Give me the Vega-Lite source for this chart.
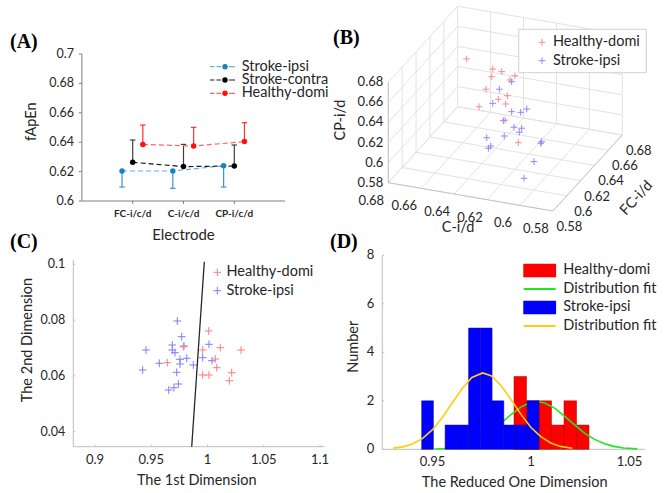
{
"$schema":"https://vega.github.io/schema/vega-lite/v6.json",
"width":666,"height":493,"autosize":{"type":"none"},"padding":0,"background":"white",
"config":{"view":{"stroke":null},"axis":{"disable":true},"legend":{"disable":true},"font":"Lato","text":{"font":"Lato","color":"#262626"}},
"resolve":{"scale":{"x":"independent","y":"independent","color":"independent","fill":"independent","stroke":"independent","shape":"independent","yOffset":"independent"}},
"datasets":{
"A":[
{"electrode":"FC-i/c/d","group":"Stroke-ipsi","mean":0.6204,"end":0.6095},
{"electrode":"C-i/c/d","group":"Stroke-ipsi","mean":0.6204,"end":0.6086},
{"electrode":"CP-i/c/d","group":"Stroke-ipsi","mean":0.6240,"end":0.6095},
{"electrode":"FC-i/c/d","group":"Stroke-contra","mean":0.6263,"end":0.6415},
{"electrode":"C-i/c/d","group":"Stroke-contra","mean":0.6234,"end":0.6385},
{"electrode":"CP-i/c/d","group":"Stroke-contra","mean":0.6238,"end":0.6381},
{"electrode":"FC-i/c/d","group":"Healthy-domi","mean":0.6385,"end":0.6517},
{"electrode":"C-i/c/d","group":"Healthy-domi","mean":0.6374,"end":0.6501},
{"electrode":"CP-i/c/d","group":"Healthy-domi","mean":0.6404,"end":0.6533}],
"B":[
{"group":"Healthy-domi","C":0.6706,"FC":0.6706,"CP":0.6373},
{"group":"Healthy-domi","C":0.6432,"FC":0.6432,"CP":0.6557},
{"group":"Healthy-domi","C":0.6338,"FC":0.6338,"CP":0.6628},
{"group":"Healthy-domi","C":0.6443,"FC":0.6443,"CP":0.6469},
{"group":"Healthy-domi","C":0.6198,"FC":0.6198,"CP":0.6733},
{"group":"Healthy-domi","C":0.6251,"FC":0.6251,"CP":0.6636},
{"group":"Healthy-domi","C":0.6503,"FC":0.6503,"CP":0.6282},
{"group":"Healthy-domi","C":0.6279,"FC":0.6279,"CP":0.6450},
{"group":"Healthy-domi","C":0.6374,"FC":0.6374,"CP":0.6316},
{"group":"Healthy-domi","C":0.6296,"FC":0.6296,"CP":0.6350},
{"group":"Healthy-domi","C":0.6576,"FC":0.6576,"CP":0.6032},
{"group":"Healthy-domi","C":0.6303,"FC":0.6303,"CP":0.6183},
{"group":"Healthy-domi","C":0.6163,"FC":0.6163,"CP":0.6103},
{"group":"Stroke-ipsi","C":0.6233,"FC":0.6233,"CP":0.6637},
{"group":"Stroke-ipsi","C":0.6363,"FC":0.6363,"CP":0.6427},
{"group":"Stroke-ipsi","C":0.6432,"FC":0.6432,"CP":0.6215},
{"group":"Stroke-ipsi","C":0.6233,"FC":0.6233,"CP":0.6339},
{"group":"Stroke-ipsi","C":0.6138,"FC":0.6138,"CP":0.6431},
{"group":"Stroke-ipsi","C":0.6075,"FC":0.6075,"CP":0.6529},
{"group":"Stroke-ipsi","C":0.6321,"FC":0.6321,"CP":0.6158},
{"group":"Stroke-ipsi","C":0.6209,"FC":0.6209,"CP":0.6209},
{"group":"Stroke-ipsi","C":0.6128,"FC":0.6128,"CP":0.6283},
{"group":"Stroke-ipsi","C":0.6153,"FC":0.6153,"CP":0.6217},
{"group":"Stroke-ipsi","C":0.6495,"FC":0.6495,"CP":0.5808},
{"group":"Stroke-ipsi","C":0.6311,"FC":0.6311,"CP":0.6016},
{"group":"Stroke-ipsi","C":0.6425,"FC":0.6353,"CP":0.5830},
{"group":"Stroke-ipsi","C":0.6414,"FC":0.6360,"CP":0.5850},
{"group":"Stroke-ipsi","C":0.5918,"FC":0.5918,"CP":0.6367},
{"group":"Stroke-ipsi","C":0.5928,"FC":0.5928,"CP":0.6341},
{"group":"Stroke-ipsi","C":0.5999,"FC":0.5999,"CP":0.6085},
{"group":"Stroke-ipsi","C":0.6104,"FC":0.6104,"CP":0.5810}],
"Bgrid":[
{"C1":0.58,"F1":0.58,"P1":0.58,"C2":0.58,"F2":0.68,"P2":0.58},
{"C1":0.60,"F1":0.58,"P1":0.58,"C2":0.60,"F2":0.68,"P2":0.58},
{"C1":0.62,"F1":0.58,"P1":0.58,"C2":0.62,"F2":0.68,"P2":0.58},
{"C1":0.64,"F1":0.58,"P1":0.58,"C2":0.64,"F2":0.68,"P2":0.58},
{"C1":0.66,"F1":0.58,"P1":0.58,"C2":0.66,"F2":0.68,"P2":0.58},
{"C1":0.68,"F1":0.58,"P1":0.58,"C2":0.68,"F2":0.68,"P2":0.58},
{"C1":0.58,"F1":0.58,"P1":0.58,"C2":0.68,"F2":0.58,"P2":0.58},
{"C1":0.58,"F1":0.60,"P1":0.58,"C2":0.68,"F2":0.60,"P2":0.58},
{"C1":0.58,"F1":0.62,"P1":0.58,"C2":0.68,"F2":0.62,"P2":0.58},
{"C1":0.58,"F1":0.64,"P1":0.58,"C2":0.68,"F2":0.64,"P2":0.58},
{"C1":0.58,"F1":0.66,"P1":0.58,"C2":0.68,"F2":0.66,"P2":0.58},
{"C1":0.58,"F1":0.68,"P1":0.58,"C2":0.68,"F2":0.68,"P2":0.58},
{"C1":0.68,"F1":0.58,"P1":0.58,"C2":0.68,"F2":0.58,"P2":0.68},
{"C1":0.68,"F1":0.60,"P1":0.58,"C2":0.68,"F2":0.60,"P2":0.68},
{"C1":0.68,"F1":0.62,"P1":0.58,"C2":0.68,"F2":0.62,"P2":0.68},
{"C1":0.68,"F1":0.64,"P1":0.58,"C2":0.68,"F2":0.64,"P2":0.68},
{"C1":0.68,"F1":0.66,"P1":0.58,"C2":0.68,"F2":0.66,"P2":0.68},
{"C1":0.68,"F1":0.68,"P1":0.58,"C2":0.68,"F2":0.68,"P2":0.68},
{"C1":0.68,"F1":0.58,"P1":0.58,"C2":0.68,"F2":0.68,"P2":0.58},
{"C1":0.68,"F1":0.58,"P1":0.60,"C2":0.68,"F2":0.68,"P2":0.60},
{"C1":0.68,"F1":0.58,"P1":0.62,"C2":0.68,"F2":0.68,"P2":0.62},
{"C1":0.68,"F1":0.58,"P1":0.64,"C2":0.68,"F2":0.68,"P2":0.64},
{"C1":0.68,"F1":0.58,"P1":0.66,"C2":0.68,"F2":0.68,"P2":0.66},
{"C1":0.68,"F1":0.58,"P1":0.68,"C2":0.68,"F2":0.68,"P2":0.68},
{"C1":0.58,"F1":0.68,"P1":0.58,"C2":0.58,"F2":0.68,"P2":0.68},
{"C1":0.60,"F1":0.68,"P1":0.58,"C2":0.60,"F2":0.68,"P2":0.68},
{"C1":0.62,"F1":0.68,"P1":0.58,"C2":0.62,"F2":0.68,"P2":0.68},
{"C1":0.64,"F1":0.68,"P1":0.58,"C2":0.64,"F2":0.68,"P2":0.68},
{"C1":0.66,"F1":0.68,"P1":0.58,"C2":0.66,"F2":0.68,"P2":0.68},
{"C1":0.58,"F1":0.68,"P1":0.58,"C2":0.68,"F2":0.68,"P2":0.58},
{"C1":0.58,"F1":0.68,"P1":0.60,"C2":0.68,"F2":0.68,"P2":0.60},
{"C1":0.58,"F1":0.68,"P1":0.62,"C2":0.68,"F2":0.68,"P2":0.62},
{"C1":0.58,"F1":0.68,"P1":0.64,"C2":0.68,"F2":0.68,"P2":0.64},
{"C1":0.58,"F1":0.68,"P1":0.66,"C2":0.68,"F2":0.68,"P2":0.66},
{"C1":0.58,"F1":0.68,"P1":0.68,"C2":0.68,"F2":0.68,"P2":0.68}],
"Bedge":[
{"C1":0.58,"F1":0.58,"P1":0.58,"C2":0.68,"F2":0.58,"P2":0.58},
{"C1":0.58,"F1":0.58,"P1":0.58,"C2":0.58,"F2":0.68,"P2":0.58},
{"C1":0.68,"F1":0.58,"P1":0.58,"C2":0.68,"F2":0.58,"P2":0.68}],
"Bticks":[{"t":0.58},{"t":0.60},{"t":0.62},{"t":0.64},{"t":0.66},{"t":0.68}],
"C":[
{"group":"Stroke-ipsi","d1":0.97316,"d2":0.07968},{"group":"Stroke-ipsi","d1":0.97707,"d2":0.07405},
{"group":"Stroke-ipsi","d1":0.94533,"d2":0.06928},{"group":"Stroke-ipsi","d1":0.96871,"d2":0.07108},
{"group":"Stroke-ipsi","d1":0.96871,"d2":0.06928},{"group":"Stroke-ipsi","d1":0.97111,"d2":0.06832},
{"group":"Stroke-ipsi","d1":0.97556,"d2":0.06595},{"group":"Stroke-ipsi","d1":0.97556,"d2":0.06427},
{"group":"Stroke-ipsi","d1":0.98151,"d2":0.06631},{"group":"Stroke-ipsi","d1":0.95716,"d2":0.06452},
{"group":"Stroke-ipsi","d1":0.98738,"d2":0.06391},{"group":"Stroke-ipsi","d1":0.9424,"d2":0.06211},
{"group":"Stroke-ipsi","d1":0.97262,"d2":0.06129},{"group":"Stroke-ipsi","d1":0.97404,"d2":0.0571},
{"group":"Stroke-ipsi","d1":0.97022,"d2":0.05577},{"group":"Stroke-ipsi","d1":0.96551,"d2":0.05495},
{"group":"Stroke-ipsi","d1":0.99573,"d2":0.06652},{"group":"Stroke-ipsi","d1":1.00133,"d2":0.07133},
{"group":"Stroke-ipsi","d1":1.004,"d2":0.06545},{"group":"Stroke-ipsi","d1":0.97911,"d2":0.07072},
{"group":"Healthy-domi","d1":0.96427,"d2":0.06473},{"group":"Healthy-domi","d1":0.97849,"d2":0.07047},
{"group":"Healthy-domi","d1":0.99573,"d2":0.06928},{"group":"Healthy-domi","d1":1.00107,"d2":0.07609},
{"group":"Healthy-domi","d1":1.01138,"d2":0.07011},{"group":"Healthy-domi","d1":1.02978,"d2":0.06928},
{"group":"Healthy-domi","d1":1.00693,"d2":0.06606},{"group":"Healthy-domi","d1":1.00818,"d2":0.06294},
{"group":"Healthy-domi","d1":0.99573,"d2":0.06032},{"group":"Healthy-domi","d1":1.00133,"d2":0.06032},
{"group":"Healthy-domi","d1":1.02151,"d2":0.06115},{"group":"Healthy-domi","d1":1.01938,"d2":0.05828}],
"Cline":[{"d1":0.98596,"d2":0.03462},{"d1":0.99716,"d2":0.10093}],
"Dbars":[
{"group":"Healthy-domi","lo":0.99137,"hi":0.99772,"n":3},{"group":"Healthy-domi","lo":0.99772,"hi":1.00406,"n":2},
{"group":"Healthy-domi","lo":1.00406,"hi":1.01041,"n":2},{"group":"Healthy-domi","lo":1.01041,"hi":1.01675,"n":1},
{"group":"Healthy-domi","lo":1.01675,"hi":1.0231,"n":2},{"group":"Healthy-domi","lo":1.0231,"hi":1.02944,"n":1},
{"group":"Stroke-ipsi","lo":0.9445,"hi":0.95046,"n":2},{"group":"Stroke-ipsi","lo":0.95641,"hi":0.96237,"n":1},
{"group":"Stroke-ipsi","lo":0.96237,"hi":0.96833,"n":1},{"group":"Stroke-ipsi","lo":0.96833,"hi":0.97428,"n":5},
{"group":"Stroke-ipsi","lo":0.97428,"hi":0.98024,"n":5},{"group":"Stroke-ipsi","lo":0.98024,"hi":0.9862,"n":2},
{"group":"Stroke-ipsi","lo":0.9862,"hi":0.99215,"n":1},{"group":"Stroke-ipsi","lo":0.99215,"hi":0.99811,"n":1},
{"group":"Stroke-ipsi","lo":0.99811,"hi":1.00406,"n":2}],
"Dfit":[
{"group":"Stroke-ipsi","x":0.930,"y":0.05},{"group":"Stroke-ipsi","x":0.935,"y":0.10},{"group":"Stroke-ipsi","x":0.940,"y":0.23},
{"group":"Stroke-ipsi","x":0.945,"y":0.45},{"group":"Stroke-ipsi","x":0.950,"y":0.81},{"group":"Stroke-ipsi","x":0.955,"y":1.31},
{"group":"Stroke-ipsi","x":0.960,"y":1.91},{"group":"Stroke-ipsi","x":0.965,"y":2.50},{"group":"Stroke-ipsi","x":0.970,"y":2.96},
{"group":"Stroke-ipsi","x":0.9755,"y":3.15},{"group":"Stroke-ipsi","x":0.980,"y":3.02},{"group":"Stroke-ipsi","x":0.985,"y":2.61},
{"group":"Stroke-ipsi","x":0.990,"y":2.03},{"group":"Stroke-ipsi","x":0.995,"y":1.43},{"group":"Stroke-ipsi","x":1.000,"y":0.90},
{"group":"Stroke-ipsi","x":1.005,"y":0.52},{"group":"Stroke-ipsi","x":1.010,"y":0.26},{"group":"Stroke-ipsi","x":1.015,"y":0.12},
{"group":"Stroke-ipsi","x":1.021,"y":0.04},
{"group":"Healthy-domi","x":0.951,"y":0.014},{"group":"Healthy-domi","x":0.956,"y":0.034},{"group":"Healthy-domi","x":0.960,"y":0.066},
{"group":"Healthy-domi","x":0.965,"y":0.14},{"group":"Healthy-domi","x":0.970,"y":0.27},{"group":"Healthy-domi","x":0.975,"y":0.47},
{"group":"Healthy-domi","x":0.980,"y":0.75},{"group":"Healthy-domi","x":0.985,"y":1.09},{"group":"Healthy-domi","x":0.990,"y":1.44},
{"group":"Healthy-domi","x":0.995,"y":1.75},{"group":"Healthy-domi","x":1.000,"y":1.94},{"group":"Healthy-domi","x":1.003,"y":1.97},
{"group":"Healthy-domi","x":1.007,"y":1.91},{"group":"Healthy-domi","x":1.012,"y":1.70},{"group":"Healthy-domi","x":1.017,"y":1.37},
{"group":"Healthy-domi","x":1.022,"y":1.02},{"group":"Healthy-domi","x":1.027,"y":0.68},{"group":"Healthy-domi","x":1.032,"y":0.42},
{"group":"Healthy-domi","x":1.037,"y":0.24},{"group":"Healthy-domi","x":1.042,"y":0.12},{"group":"Healthy-domi","x":1.047,"y":0.056},
{"group":"Healthy-domi","x":1.054,"y":0.017}]
},
"layer":[
{"layer":[
 {"data":{"values":[{}]},"mark":{"type":"rule","color":"#7f7f7f"},"encoding":{"x":{"datum":0,"scale":{"domain":[-1.6122,11.498],"nice":false,"zero":false}},"y":{"datum":0.6,"scale":{"domain":[0.401361,0.736735],"nice":false,"zero":false}},"y2":{"datum":0.7}}},
 {"data":{"values":[{}]},"mark":{"type":"rule","color":"#7f7f7f"},"encoding":{"x":{"datum":0,"scale":{"domain":[-1.6122,11.498],"nice":false,"zero":false}},"x2":{"datum":4},"y":{"datum":0.6,"scale":{"domain":[0.401361,0.736735],"nice":false,"zero":false}}}},
 {"data":{"values":[{"v":0.6},{"v":0.62},{"v":0.64},{"v":0.66},{"v":0.68},{"v":0.7}]},"layer":[
  {"mark":{"type":"rule","color":"#7f7f7f"},"encoding":{"x":{"datum":0,"scale":{"domain":[-1.6122,11.498],"nice":false,"zero":false}},"x2":{"datum":-0.06},"y":{"field":"v","type":"quantitative","scale":{"domain":[0.401361,0.736735],"nice":false,"zero":false}}}},
  {"mark":{"type":"text","align":"right","baseline":"middle","dx":-8,"fontSize":12.5,"color":"#262626"},"encoding":{"x":{"datum":0,"scale":{"domain":[-1.6122,11.498],"nice":false,"zero":false}},"y":{"field":"v","type":"quantitative","scale":{"domain":[0.401361,0.736735],"nice":false,"zero":false}},"text":{"field":"v","type":"quantitative","format":"~g"}}}
 ]},
 {"data":{"values":[{"e":"FC-i/c/d"},{"e":"C-i/c/d"},{"e":"CP-i/c/d"}]},"transform":[{"calculate":"indexof(['FC-i/c/d','C-i/c/d','CP-i/c/d'], datum.e) + 1","as":"i"}],"layer":[
  {"mark":{"type":"rule","color":"#7f7f7f"},"encoding":{"x":{"field":"i","type":"quantitative","scale":{"domain":[-1.6122,11.498],"nice":false,"zero":false}},"y":{"datum":0.6,"scale":{"domain":[0.401361,0.736735],"nice":false,"zero":false}},"y2":{"datum":0.598}}},
  {"mark":{"type":"text","baseline":"middle","dy":12.5,"fontSize":10,"fontWeight":"bold","color":"#262626"},"encoding":{"x":{"field":"i","type":"quantitative","scale":{"domain":[-1.6122,11.498],"nice":false,"zero":false}},"y":{"datum":0.6,"scale":{"domain":[0.401361,0.736735],"nice":false,"zero":false}},"text":{"field":"e","type":"nominal"}}}
 ]},
 {"data":{"name":"A"},"transform":[{"calculate":"indexof(['FC-i/c/d','C-i/c/d','CP-i/c/d'], datum.electrode) + 1 + (datum.group === 'Stroke-ipsi' ? -0.21 : (datum.group === 'Healthy-domi' ? 0.2 : 0))","as":"xp"}],"layer":[
  {"mark":{"type":"rule","strokeWidth":1.2},"encoding":{"x":{"field":"xp","type":"quantitative","scale":{"domain":[-1.6122,11.498],"nice":false,"zero":false}},"y":{"field":"mean","type":"quantitative","scale":{"domain":[0.401361,0.736735],"nice":false,"zero":false}},"y2":{"field":"end"},"color":{"field":"group","type":"nominal","scale":{"domain":["Stroke-ipsi","Stroke-contra","Healthy-domi"],"range":["#3d8fdc","#404040","#ff3030"]}}}},
  {"mark":{"type":"point","shape":"M-1,0H1","size":30,"filled":false,"strokeWidth":1.2,"opacity":1},"encoding":{"x":{"field":"xp","type":"quantitative","scale":{"domain":[-1.6122,11.498],"nice":false,"zero":false}},"y":{"field":"end","type":"quantitative","scale":{"domain":[0.401361,0.736735],"nice":false,"zero":false}},"color":{"field":"group","type":"nominal","scale":{"domain":["Stroke-ipsi","Stroke-contra","Healthy-domi"],"range":["#3d8fdc","#404040","#ff3030"]}}}},
  {"mark":{"type":"line","strokeDash":[5,3],"strokeWidth":1.2},"encoding":{"x":{"field":"xp","type":"quantitative","scale":{"domain":[-1.6122,11.498],"nice":false,"zero":false}},"y":{"field":"mean","type":"quantitative","scale":{"domain":[0.401361,0.736735],"nice":false,"zero":false}},"stroke":{"field":"group","type":"nominal","scale":{"domain":["Stroke-ipsi","Stroke-contra","Healthy-domi"],"range":["#66aee8","#1a1a1a","#ff6666"]}}}},
  {"mark":{"type":"point","filled":true,"size":30,"strokeWidth":0,"opacity":1},"encoding":{"x":{"field":"xp","type":"quantitative","scale":{"domain":[-1.6122,11.498],"nice":false,"zero":false}},"y":{"field":"mean","type":"quantitative","scale":{"domain":[0.401361,0.736735],"nice":false,"zero":false}},"fill":{"field":"group","type":"nominal","scale":{"domain":["Stroke-ipsi","Stroke-contra","Healthy-domi"],"range":["#1784c2","#000000","#ff1010"]}}}}
 ]},
 {"data":{"values":[{"group":"Stroke-ipsi"},{"group":"Stroke-contra"},{"group":"Healthy-domi"}]},"layer":[
  {"mark":{"type":"point","shape":"M-3,0H-2.1M-1.7,0H-0.8M-0.4,0H0.4M0.8,0H2","size":100,"filled":false,"strokeWidth":1.2,"opacity":1},"encoding":{"x":{"datum":2.8169,"scale":{"domain":[-1.6122,11.498],"nice":false,"zero":false}},"y":{"datum":0.691361,"scale":{"domain":[0.401361,0.736735],"nice":false,"zero":false}},"yOffset":{"field":"group","type":"nominal","scale":{"type":"point","domain":["Stroke-ipsi","Stroke-contra","Healthy-domi"],"range":[0,26.6],"padding":0}},"stroke":{"field":"group","type":"nominal","scale":{"domain":["Stroke-ipsi","Stroke-contra","Healthy-domi"],"range":["#66aee8","#1a1a1a","#ff6666"]}}}},
  {"mark":{"type":"point","filled":true,"size":30,"strokeWidth":0,"opacity":1},"encoding":{"x":{"datum":2.8169,"scale":{"domain":[-1.6122,11.498],"nice":false,"zero":false}},"y":{"datum":0.691361,"scale":{"domain":[0.401361,0.736735],"nice":false,"zero":false}},"yOffset":{"field":"group","type":"nominal","scale":{"type":"point","domain":["Stroke-ipsi","Stroke-contra","Healthy-domi"],"range":[0,26.6],"padding":0}},"fill":{"field":"group","type":"nominal","scale":{"domain":["Stroke-ipsi","Stroke-contra","Healthy-domi"],"range":["#1784c2","#000000","#ff1010"]}}}},
  {"mark":{"type":"text","align":"left","baseline":"middle","fontSize":14.5,"color":"#262626"},"encoding":{"x":{"datum":3.1457,"scale":{"domain":[-1.6122,11.498],"nice":false,"zero":false}},"y":{"datum":0.691361,"scale":{"domain":[0.401361,0.736735],"nice":false,"zero":false}},"yOffset":{"field":"group","type":"nominal","scale":{"type":"point","domain":["Stroke-ipsi","Stroke-contra","Healthy-domi"],"range":[0,26.6],"padding":0}},"text":{"field":"group","type":"nominal"}}}
 ]},
 {"data":{"values":[{}]},"layer":[
  {"mark":{"type":"text","font":"Liberation Serif","fontWeight":"bold","fontSize":20,"align":"left","baseline":"middle","color":"#000000"},"encoding":{"x":{"datum":-1.41535,"scale":{"domain":[-1.6122,11.498],"nice":false,"zero":false}},"y":{"datum":0.708503,"scale":{"domain":[0.401361,0.736735],"nice":false,"zero":false}},"text":{"value":"(A)"}}},
  {"mark":{"type":"text","angle":270,"align":"center","baseline":"middle","fontSize":14.5,"color":"#262626"},"encoding":{"x":{"datum":-0.9823,"scale":{"domain":[-1.6122,11.498],"nice":false,"zero":false}},"y":{"datum":0.65395,"scale":{"domain":[0.401361,0.736735],"nice":false,"zero":false}},"text":{"value":"fApEn"}}},
  {"mark":{"type":"text","align":"center","baseline":"middle","fontSize":15,"color":"#262626"},"encoding":{"x":{"datum":2,"scale":{"domain":[-1.6122,11.498],"nice":false,"zero":false}},"y":{"datum":0.576871,"scale":{"domain":[0.401361,0.736735],"nice":false,"zero":false}},"text":{"value":"Electrode"}}}
 ]}
]},
{"layer":[
 {"data":{"name":"Bgrid"},"transform":[{"calculate":"-16.46*(datum.C1-0.58)+6.94*(datum.F1-0.58)","as":"u1"},{"calculate":"2.83*(datum.C1-0.58)+7.6*(datum.F1-0.58)+10.05*(datum.P1-0.58)","as":"v1"},{"calculate":"-16.46*(datum.C2-0.58)+6.94*(datum.F2-0.58)","as":"u2"},{"calculate":"2.83*(datum.C2-0.58)+7.6*(datum.F2-0.58)+10.05*(datum.P2-0.58)","as":"v2"}],
  "mark":{"type":"rule","color":"#e2e2e2","strokeWidth":1},"encoding":{"x":{"field":"u1","type":"quantitative","scale":{"domain":[-5.529,1.131],"nice":false,"zero":false}},"y":{"field":"v1","type":"quantitative","scale":{"domain":[-2.82,2.11],"nice":false,"zero":false}},"x2":{"field":"u2"},"y2":{"field":"v2"}}},
 {"data":{"name":"Bedge"},"transform":[{"calculate":"-16.46*(datum.C1-0.58)+6.94*(datum.F1-0.58)","as":"u1"},{"calculate":"2.83*(datum.C1-0.58)+7.6*(datum.F1-0.58)+10.05*(datum.P1-0.58)","as":"v1"},{"calculate":"-16.46*(datum.C2-0.58)+6.94*(datum.F2-0.58)","as":"u2"},{"calculate":"2.83*(datum.C2-0.58)+7.6*(datum.F2-0.58)+10.05*(datum.P2-0.58)","as":"v2"}],
  "mark":{"type":"rule","color":"#c4c4c4","strokeWidth":1},"encoding":{"x":{"field":"u1","type":"quantitative","scale":{"domain":[-5.529,1.131],"nice":false,"zero":false}},"y":{"field":"v1","type":"quantitative","scale":{"domain":[-2.82,2.11],"nice":false,"zero":false}},"x2":{"field":"u2"},"y2":{"field":"v2"}}},
 {"data":{"name":"B"},"transform":[{"calculate":"-16.46*(datum.C-0.58)+6.94*(datum.FC-0.58)","as":"u"},{"calculate":"2.83*(datum.C-0.58)+7.6*(datum.FC-0.58)+10.05*(datum.CP-0.58)","as":"v"}],
  "mark":{"type":"point","shape":"M-1,0H1M0,-1V1","size":45,"filled":false,"strokeWidth":1,"opacity":1},"encoding":{"x":{"field":"u","type":"quantitative","scale":{"domain":[-5.529,1.131],"nice":false,"zero":false}},"y":{"field":"v","type":"quantitative","scale":{"domain":[-2.82,2.11],"nice":false,"zero":false}},"stroke":{"field":"group","type":"nominal","scale":{"domain":["Healthy-domi","Stroke-ipsi"],"range":["#ff8a8a","#8a8aff"]}}}},
 {"data":{"name":"Bticks"},"transform":[{"calculate":"-1.646","as":"u"},{"calculate":"0.283+10.05*(datum.t-0.58)","as":"v"}],
  "mark":{"type":"text","align":"right","baseline":"middle","dx":-5,"fontSize":13,"color":"#262626"},"encoding":{"x":{"field":"u","type":"quantitative","scale":{"domain":[-5.529,1.131],"nice":false,"zero":false}},"y":{"field":"v","type":"quantitative","scale":{"domain":[-2.82,2.11],"nice":false,"zero":false}},"text":{"field":"t","type":"quantitative","format":"~g"}}},
 {"data":{"name":"Bticks"},"transform":[{"calculate":"-16.46*(datum.t-0.58)","as":"u"},{"calculate":"2.83*(datum.t-0.58)","as":"v"}],
  "mark":{"type":"text","align":"center","baseline":"middle","dx":-17,"dy":18,"fontSize":13,"color":"#262626"},"encoding":{"x":{"field":"u","type":"quantitative","scale":{"domain":[-5.529,1.131],"nice":false,"zero":false}},"y":{"field":"v","type":"quantitative","scale":{"domain":[-2.82,2.11],"nice":false,"zero":false}},"text":{"field":"t","type":"quantitative","format":"~g"}}},
 {"data":{"name":"Bticks"},"transform":[{"calculate":"6.94*(datum.t-0.58)","as":"u"},{"calculate":"7.6*(datum.t-0.58)","as":"v"}],
  "mark":{"type":"text","align":"center","baseline":"middle","dx":16.5,"dy":16,"fontSize":13,"color":"#262626"},"encoding":{"x":{"field":"u","type":"quantitative","scale":{"domain":[-5.529,1.131],"nice":false,"zero":false}},"y":{"field":"v","type":"quantitative","scale":{"domain":[-2.82,2.11],"nice":false,"zero":false}},"text":{"field":"t","type":"quantitative","format":"~g"}}},
 {"data":{"values":[{}]},"mark":{"type":"rect","fill":"#ffffff","stroke":"#d0d0d0","strokeWidth":1},"encoding":{"x":{"datum":-0.342,"scale":{"domain":[-5.529,1.131],"nice":false,"zero":false}},"x2":{"datum":0.934},"y":{"datum":1.817,"scale":{"domain":[-2.82,2.11],"nice":false,"zero":false}},"y2":{"datum":1.383}}},
 {"data":{"values":[{"group":"Healthy-domi"},{"group":"Stroke-ipsi"}]},"layer":[
  {"mark":{"type":"point","shape":"M-1,0H1M0,-1V1","size":45,"filled":false,"strokeWidth":1,"opacity":1},"encoding":{"x":{"datum":-0.109,"scale":{"domain":[-5.529,1.131],"nice":false,"zero":false}},"y":{"datum":1.687,"scale":{"domain":[-2.82,2.11],"nice":false,"zero":false}},"yOffset":{"field":"group","type":"nominal","scale":{"type":"point","domain":["Healthy-domi","Stroke-ipsi"],"range":[0,18.4],"padding":0}},"stroke":{"field":"group","type":"nominal","scale":{"domain":["Healthy-domi","Stroke-ipsi"],"range":["#ff8a8a","#8a8aff"]}}}},
  {"mark":{"type":"text","align":"left","baseline":"middle","fontSize":14.5,"color":"#262626"},"encoding":{"x":{"datum":0.001,"scale":{"domain":[-5.529,1.131],"nice":false,"zero":false}},"y":{"datum":1.687,"scale":{"domain":[-2.82,2.11],"nice":false,"zero":false}},"yOffset":{"field":"group","type":"nominal","scale":{"type":"point","domain":["Healthy-domi","Stroke-ipsi"],"range":[0,18.4],"padding":0}},"text":{"field":"group","type":"nominal"}}}
 ]},
 {"data":{"values":[{}]},"layer":[
  {"mark":{"type":"text","font":"Liberation Serif","fontWeight":"bold","fontSize":20,"align":"left","baseline":"middle","color":"#000000"},"encoding":{"x":{"datum":-2.199,"scale":{"domain":[-5.529,1.131],"nice":false,"zero":false}},"y":{"datum":1.73,"scale":{"domain":[-2.82,2.11],"nice":false,"zero":false}},"text":{"value":"(B)"}}},
  {"mark":{"type":"text","angle":270,"align":"center","baseline":"middle","fontSize":14.5,"color":"#262626"},"encoding":{"x":{"datum":-2.116,"scale":{"domain":[-5.529,1.131],"nice":false,"zero":false}},"y":{"datum":0.91,"scale":{"domain":[-2.82,2.11],"nice":false,"zero":false}},"text":{"value":"CP-i/d"}}},
  {"mark":{"type":"text","align":"center","baseline":"middle","fontSize":14.5,"color":"#262626"},"encoding":{"x":{"datum":-0.949,"scale":{"domain":[-5.529,1.131],"nice":false,"zero":false}},"y":{"datum":-0.165,"scale":{"domain":[-2.82,2.11],"nice":false,"zero":false}},"text":{"value":"C-i/d"}}},
  {"mark":{"type":"text","angle":312,"align":"center","baseline":"middle","fontSize":14.5,"color":"#262626"},"encoding":{"x":{"datum":0.838,"scale":{"domain":[-5.529,1.131],"nice":false,"zero":false}},"y":{"datum":0.127,"scale":{"domain":[-2.82,2.11],"nice":false,"zero":false}},"text":{"value":"FC-i/d"}}}
 ]}
]},
{"layer":[
 {"data":{"values":[{}]},"mark":{"type":"rule","color":"#bdbdbd"},"encoding":{"x":{"datum":0.88071,"scale":{"domain":[0.815556,1.407556],"nice":false,"zero":false}},"y":{"datum":0.03462,"scale":{"domain":[0.018029,0.194731],"nice":false,"zero":false}},"y2":{"datum":0.1015}}},
 {"data":{"values":[{}]},"mark":{"type":"rule","color":"#bdbdbd"},"encoding":{"x":{"datum":0.88071,"scale":{"domain":[0.815556,1.407556],"nice":false,"zero":false}},"x2":{"datum":1.10382},"y":{"datum":0.03462,"scale":{"domain":[0.018029,0.194731],"nice":false,"zero":false}}}},
 {"data":{"values":[{"v":0.9},{"v":0.95},{"v":1},{"v":1.05},{"v":1.1}]},"layer":[
  {"mark":{"type":"rule","color":"#bdbdbd"},"encoding":{"x":{"field":"v","type":"quantitative","scale":{"domain":[0.815556,1.407556],"nice":false,"zero":false}},"y":{"datum":0.03462,"scale":{"domain":[0.018029,0.194731],"nice":false,"zero":false}},"y2":{"datum":0.03534}}},
  {"mark":{"type":"text","align":"center","baseline":"middle","dy":13.5,"fontSize":13,"color":"#262626"},"encoding":{"x":{"field":"v","type":"quantitative","scale":{"domain":[0.815556,1.407556],"nice":false,"zero":false}},"y":{"datum":0.03462,"scale":{"domain":[0.018029,0.194731],"nice":false,"zero":false}},"text":{"field":"v","type":"quantitative","format":"~g"}}}
 ]},
 {"data":{"values":[{"v":0.04},{"v":0.06},{"v":0.08},{"v":0.1}]},"layer":[
  {"mark":{"type":"rule","color":"#bdbdbd"},"encoding":{"x":{"datum":0.88071,"scale":{"domain":[0.815556,1.407556],"nice":false,"zero":false}},"x2":{"datum":0.88249},"y":{"field":"v","type":"quantitative","scale":{"domain":[0.018029,0.194731],"nice":false,"zero":false}}}},
  {"mark":{"type":"text","align":"right","baseline":"middle","dx":-8,"fontSize":12.5,"color":"#262626"},"encoding":{"x":{"datum":0.88071,"scale":{"domain":[0.815556,1.407556],"nice":false,"zero":false}},"y":{"field":"v","type":"quantitative","scale":{"domain":[0.018029,0.194731],"nice":false,"zero":false}},"text":{"field":"v","type":"quantitative","format":"~g"}}}
 ]},
 {"data":{"name":"C"},"mark":{"type":"point","shape":"M-1,0H1M0,-1V1","size":60,"filled":false,"strokeWidth":1,"opacity":1},"encoding":{"x":{"field":"d1","type":"quantitative","scale":{"domain":[0.815556,1.407556],"nice":false,"zero":false}},"y":{"field":"d2","type":"quantitative","scale":{"domain":[0.018029,0.194731],"nice":false,"zero":false}},"stroke":{"field":"group","type":"nominal","scale":{"domain":["Healthy-domi","Stroke-ipsi"],"range":["#ff7c7c","#7c7cff"]}}}},
 {"data":{"name":"Cline"},"mark":{"type":"line","color":"#262626","strokeWidth":1.3},"encoding":{"x":{"field":"d1","type":"quantitative","scale":{"domain":[0.815556,1.407556],"nice":false,"zero":false}},"y":{"field":"d2","type":"quantitative","scale":{"domain":[0.018029,0.194731],"nice":false,"zero":false}}}},
 {"data":{"values":[{"group":"Healthy-domi"},{"group":"Stroke-ipsi"}]},"layer":[
  {"mark":{"type":"point","shape":"M-1,0H1M0,-1V1","size":60,"filled":false,"strokeWidth":1,"opacity":1},"encoding":{"x":{"datum":1.00871,"scale":{"domain":[0.815556,1.407556],"nice":false,"zero":false}},"y":{"datum":0.097133,"scale":{"domain":[0.018029,0.194731],"nice":false,"zero":false}},"yOffset":{"field":"group","type":"nominal","scale":{"type":"point","domain":["Healthy-domi","Stroke-ipsi"],"range":[0,18.4],"padding":0}},"stroke":{"field":"group","type":"nominal","scale":{"domain":["Healthy-domi","Stroke-ipsi"],"range":["#ff7c7c","#7c7cff"]}}}},
  {"mark":{"type":"text","align":"left","baseline":"middle","fontSize":14.5,"color":"#262626"},"encoding":{"x":{"datum":1.01689,"scale":{"domain":[0.815556,1.407556],"nice":false,"zero":false}},"y":{"datum":0.097133,"scale":{"domain":[0.018029,0.194731],"nice":false,"zero":false}},"yOffset":{"field":"group","type":"nominal","scale":{"type":"point","domain":["Healthy-domi","Stroke-ipsi"],"range":[0,18.4],"padding":0}},"text":{"field":"group","type":"nominal"}}}
 ]},
 {"data":{"values":[{}]},"layer":[
  {"mark":{"type":"text","font":"Liberation Serif","fontWeight":"bold","fontSize":20,"align":"left","baseline":"middle","color":"#000000"},"encoding":{"x":{"datum":0.824444,"scale":{"domain":[0.815556,1.407556],"nice":false,"zero":false}},"y":{"datum":0.107993,"scale":{"domain":[0.018029,0.194731],"nice":false,"zero":false}},"text":{"value":"(C)"}}},
  {"mark":{"type":"text","angle":270,"align":"center","baseline":"middle","fontSize":14.5,"color":"#262626"},"encoding":{"x":{"datum":0.84071,"scale":{"domain":[0.815556,1.407556],"nice":false,"zero":false}},"y":{"datum":0.072867,"scale":{"domain":[0.018029,0.194731],"nice":false,"zero":false}},"text":{"value":"The 2nd Dimension"}}},
  {"mark":{"type":"text","align":"center","baseline":"middle","fontSize":14.5,"color":"#262626"},"encoding":{"x":{"datum":0.9904,"scale":{"domain":[0.815556,1.407556],"nice":false,"zero":false}},"y":{"datum":0.022437,"scale":{"domain":[0.018029,0.194731],"nice":false,"zero":false}},"text":{"value":"The 1st Dimension"}}}
 ]}
]},
{"layer":[
 {"data":{"values":[{}]},"mark":{"type":"rule","color":"#bdbdbd"},"encoding":{"x":{"datum":0.924518,"scale":{"domain":[0.73046,1.06853],"nice":false,"zero":false}},"y":{"datum":0,"scale":{"domain":[-1.80206,18.5278],"nice":false,"zero":false}},"y2":{"datum":8}}},
 {"data":{"values":[{}]},"mark":{"type":"rule","color":"#bdbdbd"},"encoding":{"x":{"datum":0.924518,"scale":{"domain":[0.73046,1.06853],"nice":false,"zero":false}},"x2":{"datum":1.057868},"y":{"datum":0,"scale":{"domain":[-1.80206,18.5278],"nice":false,"zero":false}}}},
 {"data":{"values":[{"v":0.95},{"v":1},{"v":1.05}]},"layer":[
  {"mark":{"type":"rule","color":"#bdbdbd"},"encoding":{"x":{"field":"v","type":"quantitative","scale":{"domain":[0.73046,1.06853],"nice":false,"zero":false}},"y":{"datum":0,"scale":{"domain":[-1.80206,18.5278],"nice":false,"zero":false}},"y2":{"datum":0.0825}}},
  {"mark":{"type":"text","align":"center","baseline":"middle","dy":12.5,"fontSize":13,"color":"#262626"},"encoding":{"x":{"field":"v","type":"quantitative","scale":{"domain":[0.73046,1.06853],"nice":false,"zero":false}},"y":{"datum":0,"scale":{"domain":[-1.80206,18.5278],"nice":false,"zero":false}},"text":{"field":"v","type":"quantitative","format":"~g"}}}
 ]},
 {"data":{"values":[{"v":0},{"v":2},{"v":4},{"v":6},{"v":8}]},"layer":[
  {"mark":{"type":"rule","color":"#bdbdbd"},"encoding":{"x":{"datum":0.924518,"scale":{"domain":[0.73046,1.06853],"nice":false,"zero":false}},"x2":{"datum":0.925533},"y":{"field":"v","type":"quantitative","scale":{"domain":[-1.80206,18.5278],"nice":false,"zero":false}}}},
  {"mark":{"type":"text","align":"right","baseline":"middle","dx":-8,"fontSize":13,"color":"#262626"},"encoding":{"x":{"datum":0.924518,"scale":{"domain":[0.73046,1.06853],"nice":false,"zero":false}},"y":{"field":"v","type":"quantitative","scale":{"domain":[-1.80206,18.5278],"nice":false,"zero":false}},"text":{"field":"v","type":"quantitative","format":"~g"}}}
 ]},
 {"data":{"name":"Dbars"},"transform":[{"filter":"datum.group === 'Healthy-domi'"}],"mark":{"type":"rect","fill":"#ff0000","stroke":"#a00000","strokeWidth":0.5},"encoding":{"x":{"field":"lo","type":"quantitative","scale":{"domain":[0.73046,1.06853],"nice":false,"zero":false}},"x2":{"field":"hi"},"y":{"field":"n","type":"quantitative","scale":{"domain":[-1.80206,18.5278],"nice":false,"zero":false}},"y2":{"datum":0}}},
 {"data":{"name":"Dfit"},"transform":[{"filter":"datum.group === 'Healthy-domi'"}],"mark":{"type":"line","color":"#1ee81e","strokeWidth":1.6},"encoding":{"x":{"field":"x","type":"quantitative","scale":{"domain":[0.73046,1.06853],"nice":false,"zero":false}},"y":{"field":"y","type":"quantitative","scale":{"domain":[-1.80206,18.5278],"nice":false,"zero":false}}}},
 {"data":{"name":"Dbars"},"transform":[{"filter":"datum.group === 'Stroke-ipsi'"}],"mark":{"type":"rect","fill":"#0000ff","stroke":"#000090","strokeWidth":0.5},"encoding":{"x":{"field":"lo","type":"quantitative","scale":{"domain":[0.73046,1.06853],"nice":false,"zero":false}},"x2":{"field":"hi"},"y":{"field":"n","type":"quantitative","scale":{"domain":[-1.80206,18.5278],"nice":false,"zero":false}},"y2":{"datum":0}}},
 {"data":{"name":"Dfit"},"transform":[{"filter":"datum.group === 'Stroke-ipsi'"}],"mark":{"type":"line","color":"#ffcc11","strokeWidth":1.6},"encoding":{"x":{"field":"x","type":"quantitative","scale":{"domain":[0.73046,1.06853],"nice":false,"zero":false}},"y":{"field":"y","type":"quantitative","scale":{"domain":[-1.80206,18.5278],"nice":false,"zero":false}}}},
 {"data":{"values":[{"key":"h","label":"Healthy-domi"},{"key":"hf","label":"Distribution fit"},{"key":"s","label":"Stroke-ipsi"},{"key":"sf","label":"Distribution fit"}]},"layer":[
  {"mark":{"type":"point","size":64,"filled":true,"strokeWidth":1.8,"opacity":1},"encoding":{"x":{"datum":1.004416,"scale":{"domain":[0.73046,1.06853],"nice":false,"zero":false}},"y":{"datum":7.3732,"scale":{"domain":[-1.80206,18.5278],"nice":false,"zero":false}},"yOffset":{"field":"key","type":"nominal","scale":{"type":"point","domain":["h","hf","s","sf"],"range":[0,55.5],"padding":0}},"shape":{"field":"key","type":"nominal","scale":{"domain":["h","hf","s","sf"],"range":["M-3.875,-1.45H3.875V1.45H-3.875Z","M-4,0H4","M-3.875,-1.45H3.875V1.45H-3.875Z","M-4,0H4"]}},"fill":{"field":"key","type":"nominal","scale":{"domain":["h","hf","s","sf"],"range":["#ff0000","#1ee81e","#0000ff","#ffcc11"]}},"stroke":{"field":"key","type":"nominal","scale":{"domain":["h","hf","s","sf"],"range":["#ff0000","#1ee81e","#0000ff","#ffcc11"]}}}},
  {"mark":{"type":"text","align":"left","baseline":"middle","fontSize":14.5,"color":"#262626"},"encoding":{"x":{"datum":1.016396,"scale":{"domain":[0.73046,1.06853],"nice":false,"zero":false}},"y":{"datum":7.3732,"scale":{"domain":[-1.80206,18.5278],"nice":false,"zero":false}},"yOffset":{"field":"key","type":"nominal","scale":{"type":"point","domain":["h","hf","s","sf"],"range":[0,55.5],"padding":0}},"text":{"field":"label","type":"nominal"}}}
 ]},
 {"data":{"values":[{}]},"layer":[
  {"mark":{"type":"text","font":"Liberation Serif","fontWeight":"bold","fontSize":20,"align":"left","baseline":"middle","color":"#000000"},"encoding":{"x":{"datum":0.89797,"scale":{"domain":[0.73046,1.06853],"nice":false,"zero":false}},"y":{"datum":8.54845,"scale":{"domain":[-1.80206,18.5278],"nice":false,"zero":false}},"text":{"value":"(D)"}}},
  {"mark":{"type":"text","angle":270,"align":"center","baseline":"middle","fontSize":14.5,"color":"#262626"},"encoding":{"x":{"datum":0.91,"scale":{"domain":[0.73046,1.06853],"nice":false,"zero":false}},"y":{"datum":4.2309,"scale":{"domain":[-1.80206,18.5278],"nice":false,"zero":false}},"text":{"value":"Number"}}},
  {"mark":{"type":"text","align":"center","baseline":"middle","fontSize":14.5,"color":"#262626"},"encoding":{"x":{"datum":0.991726,"scale":{"domain":[0.73046,1.06853],"nice":false,"zero":false}},"y":{"datum":-1.37732,"scale":{"domain":[-1.80206,18.5278],"nice":false,"zero":false}},"text":{"value":"The Reduced One Dimension"}}}
 ]}
]}
]
}
